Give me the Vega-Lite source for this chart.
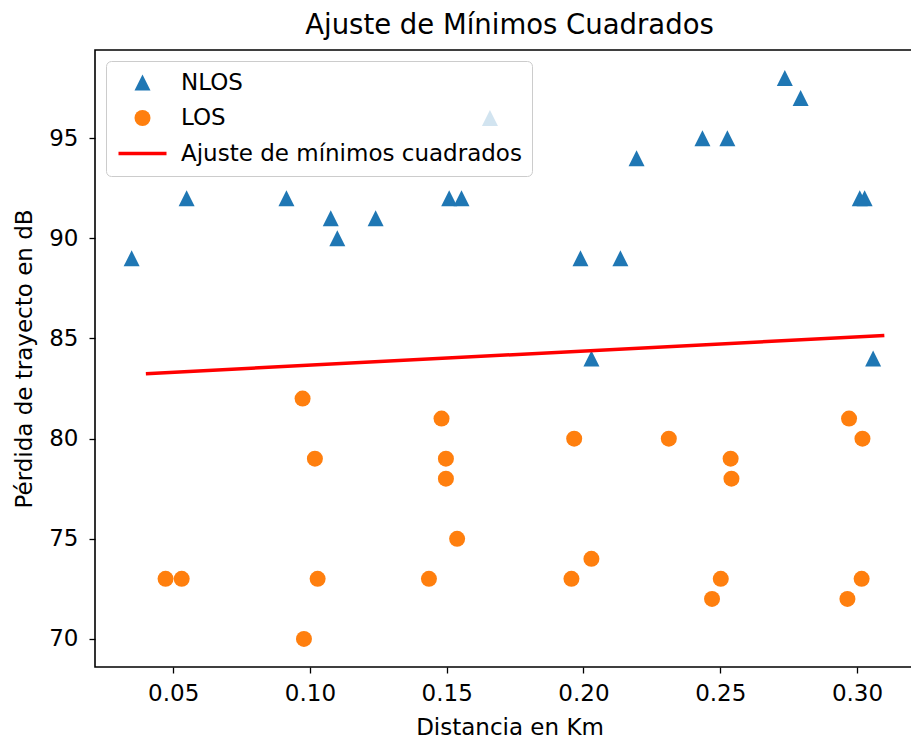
{
  "$schema": "https://vega.github.io/schema/vega-lite/v6.json",
  "width": 829,
  "height": 617,
  "autosize": "none",
  "padding": {"left": 95, "top": 50, "right": 0, "bottom": 71},
  "background": "white",
  "config": {
    "font": "DejaVu Sans",
    "view": {"stroke": "black", "strokeWidth": 1.6},
    "axis": {
      "labelFont": "DejaVu Sans",
      "titleFont": "DejaVu Sans",
      "labelFontSize": 23,
      "titleFontSize": 23,
      "titleFontWeight": "normal",
      "labelColor": "black",
      "titleColor": "black",
      "tickColor": "black",
      "tickSize": 6,
      "tickWidth": 1.3,
      "domain": false,
      "grid": false
    }
  },
  "title": {
    "text": "Ajuste de Mínimos Cuadrados",
    "font": "DejaVu Sans",
    "fontSize": 27.5,
    "fontWeight": "normal",
    "color": "black",
    "baseline": "bottom",
    "offset": 11,
    "dy": 28
  },
  "datasets": {
    "puntos": [
      {"distancia": 0.0348, "perdida": 89, "serie": "NLOS"},
      {"distancia": 0.0549, "perdida": 92, "serie": "NLOS"},
      {"distancia": 0.0914, "perdida": 92, "serie": "NLOS"},
      {"distancia": 0.1076, "perdida": 91, "serie": "NLOS"},
      {"distancia": 0.110, "perdida": 90, "serie": "NLOS"},
      {"distancia": 0.124, "perdida": 91, "serie": "NLOS"},
      {"distancia": 0.1509, "perdida": 92, "serie": "NLOS"},
      {"distancia": 0.1554, "perdida": 92, "serie": "NLOS"},
      {"distancia": 0.1658, "perdida": 96, "serie": "NLOS"},
      {"distancia": 0.1989, "perdida": 89, "serie": "NLOS"},
      {"distancia": 0.2029, "perdida": 84, "serie": "NLOS"},
      {"distancia": 0.2135, "perdida": 89, "serie": "NLOS"},
      {"distancia": 0.2194, "perdida": 94, "serie": "NLOS"},
      {"distancia": 0.2435, "perdida": 95, "serie": "NLOS"},
      {"distancia": 0.2526, "perdida": 95, "serie": "NLOS"},
      {"distancia": 0.2736, "perdida": 98, "serie": "NLOS"},
      {"distancia": 0.2794, "perdida": 97, "serie": "NLOS"},
      {"distancia": 0.301, "perdida": 92, "serie": "NLOS"},
      {"distancia": 0.3028, "perdida": 92, "serie": "NLOS"},
      {"distancia": 0.3059, "perdida": 84, "serie": "NLOS"},
      {"distancia": 0.0472, "perdida": 73, "serie": "LOS"},
      {"distancia": 0.0531, "perdida": 73, "serie": "LOS"},
      {"distancia": 0.0973, "perdida": 82, "serie": "LOS"},
      {"distancia": 0.0978, "perdida": 70, "serie": "LOS"},
      {"distancia": 0.1018, "perdida": 79, "serie": "LOS"},
      {"distancia": 0.1028, "perdida": 73, "serie": "LOS"},
      {"distancia": 0.1435, "perdida": 73, "serie": "LOS"},
      {"distancia": 0.1481, "perdida": 81, "serie": "LOS"},
      {"distancia": 0.1497, "perdida": 79, "serie": "LOS"},
      {"distancia": 0.1497, "perdida": 78, "serie": "LOS"},
      {"distancia": 0.1538, "perdida": 75, "serie": "LOS"},
      {"distancia": 0.1956, "perdida": 73, "serie": "LOS"},
      {"distancia": 0.1966, "perdida": 80, "serie": "LOS"},
      {"distancia": 0.2029, "perdida": 74, "serie": "LOS"},
      {"distancia": 0.2312, "perdida": 80, "serie": "LOS"},
      {"distancia": 0.247, "perdida": 72, "serie": "LOS"},
      {"distancia": 0.2502, "perdida": 73, "serie": "LOS"},
      {"distancia": 0.2538, "perdida": 79, "serie": "LOS"},
      {"distancia": 0.2541, "perdida": 78, "serie": "LOS"},
      {"distancia": 0.2965, "perdida": 72, "serie": "LOS"},
      {"distancia": 0.2971, "perdida": 81, "serie": "LOS"},
      {"distancia": 0.3017, "perdida": 73, "serie": "LOS"},
      {"distancia": 0.302, "perdida": 80, "serie": "LOS"}
    ],
    "ajuste": [
      {"distancia": 0.04, "perdida": 83.24, "serie": "Ajuste de mínimos cuadrados"},
      {"distancia": 0.31, "perdida": 85.15, "serie": "Ajuste de mínimos cuadrados"}
    ]
  },
  "layer": [
    {
      "data": {"name": "puntos"},
      "mark": {"type": "point", "filled": true, "size": 256, "opacity": 1, "strokeWidth": 0},
      "encoding": {
        "x": {
          "field": "distancia", "type": "quantitative",
          "scale": {"domain": [0.0214, 0.3245], "nice": false, "zero": false},
          "axis": {"title": "Distancia en Km", "values": [0.05, 0.1, 0.15, 0.2, 0.25, 0.3], "format": ".2f", "labelPadding": 9, "titlePadding": 11}
        },
        "y": {
          "field": "perdida", "type": "quantitative",
          "scale": {"domain": [68.6, 99.4], "nice": false, "zero": false},
          "axis": {"title": "Pérdida de trayecto en dB", "values": [70, 75, 80, 85, 90, 95], "format": "d", "labelPadding": 11, "titlePadding": 12}
        },
        "color": {
          "field": "serie", "type": "nominal",
          "scale": {"domain": ["NLOS", "LOS", "Ajuste de mínimos cuadrados"], "range": ["#1f77b4", "#ff7f0e", "#ff0000"]},
          "legend": {
            "title": null, "orient": "top-left", "offset": 11,
            "fillColor": "rgba(255,255,255,0.8)", "strokeColor": "#cccccc", "cornerRadius": 5,
            "padding": 10, "labelFont": "DejaVu Sans", "labelFontSize": 23, "labelColor": "black",
            "symbolSize": 256, "symbolOffset": 15, "labelOffset": 27, "rowPadding": 11.5,
            "symbolStrokeWidth": 0, "labelLimit": 500
          }
        },
        "shape": {
          "field": "serie", "type": "nominal",
          "scale": {"domain": ["NLOS", "LOS", "Ajuste de mínimos cuadrados"], "range": ["M0,-1L-1,1L1,1Z", "circle", "M-3,-0.22L3,-0.22L3,0.22L-3,0.22Z"]},
          "legend": {
            "title": null, "orient": "top-left", "offset": 11,
            "fillColor": "rgba(255,255,255,0.8)", "strokeColor": "#cccccc", "cornerRadius": 5,
            "padding": 10, "labelFont": "DejaVu Sans", "labelFontSize": 23, "labelColor": "black",
            "symbolSize": 256, "symbolOffset": 15, "labelOffset": 27, "rowPadding": 11.5,
            "symbolStrokeWidth": 0, "labelLimit": 500
          }
        }
      }
    },
    {
      "data": {"name": "ajuste"},
      "mark": {"type": "line", "strokeWidth": 3.5},
      "encoding": {
        "x": {"field": "distancia", "type": "quantitative"},
        "y": {"field": "perdida", "type": "quantitative"},
        "color": {"field": "serie", "type": "nominal"}
      }
    }
  ]
}
